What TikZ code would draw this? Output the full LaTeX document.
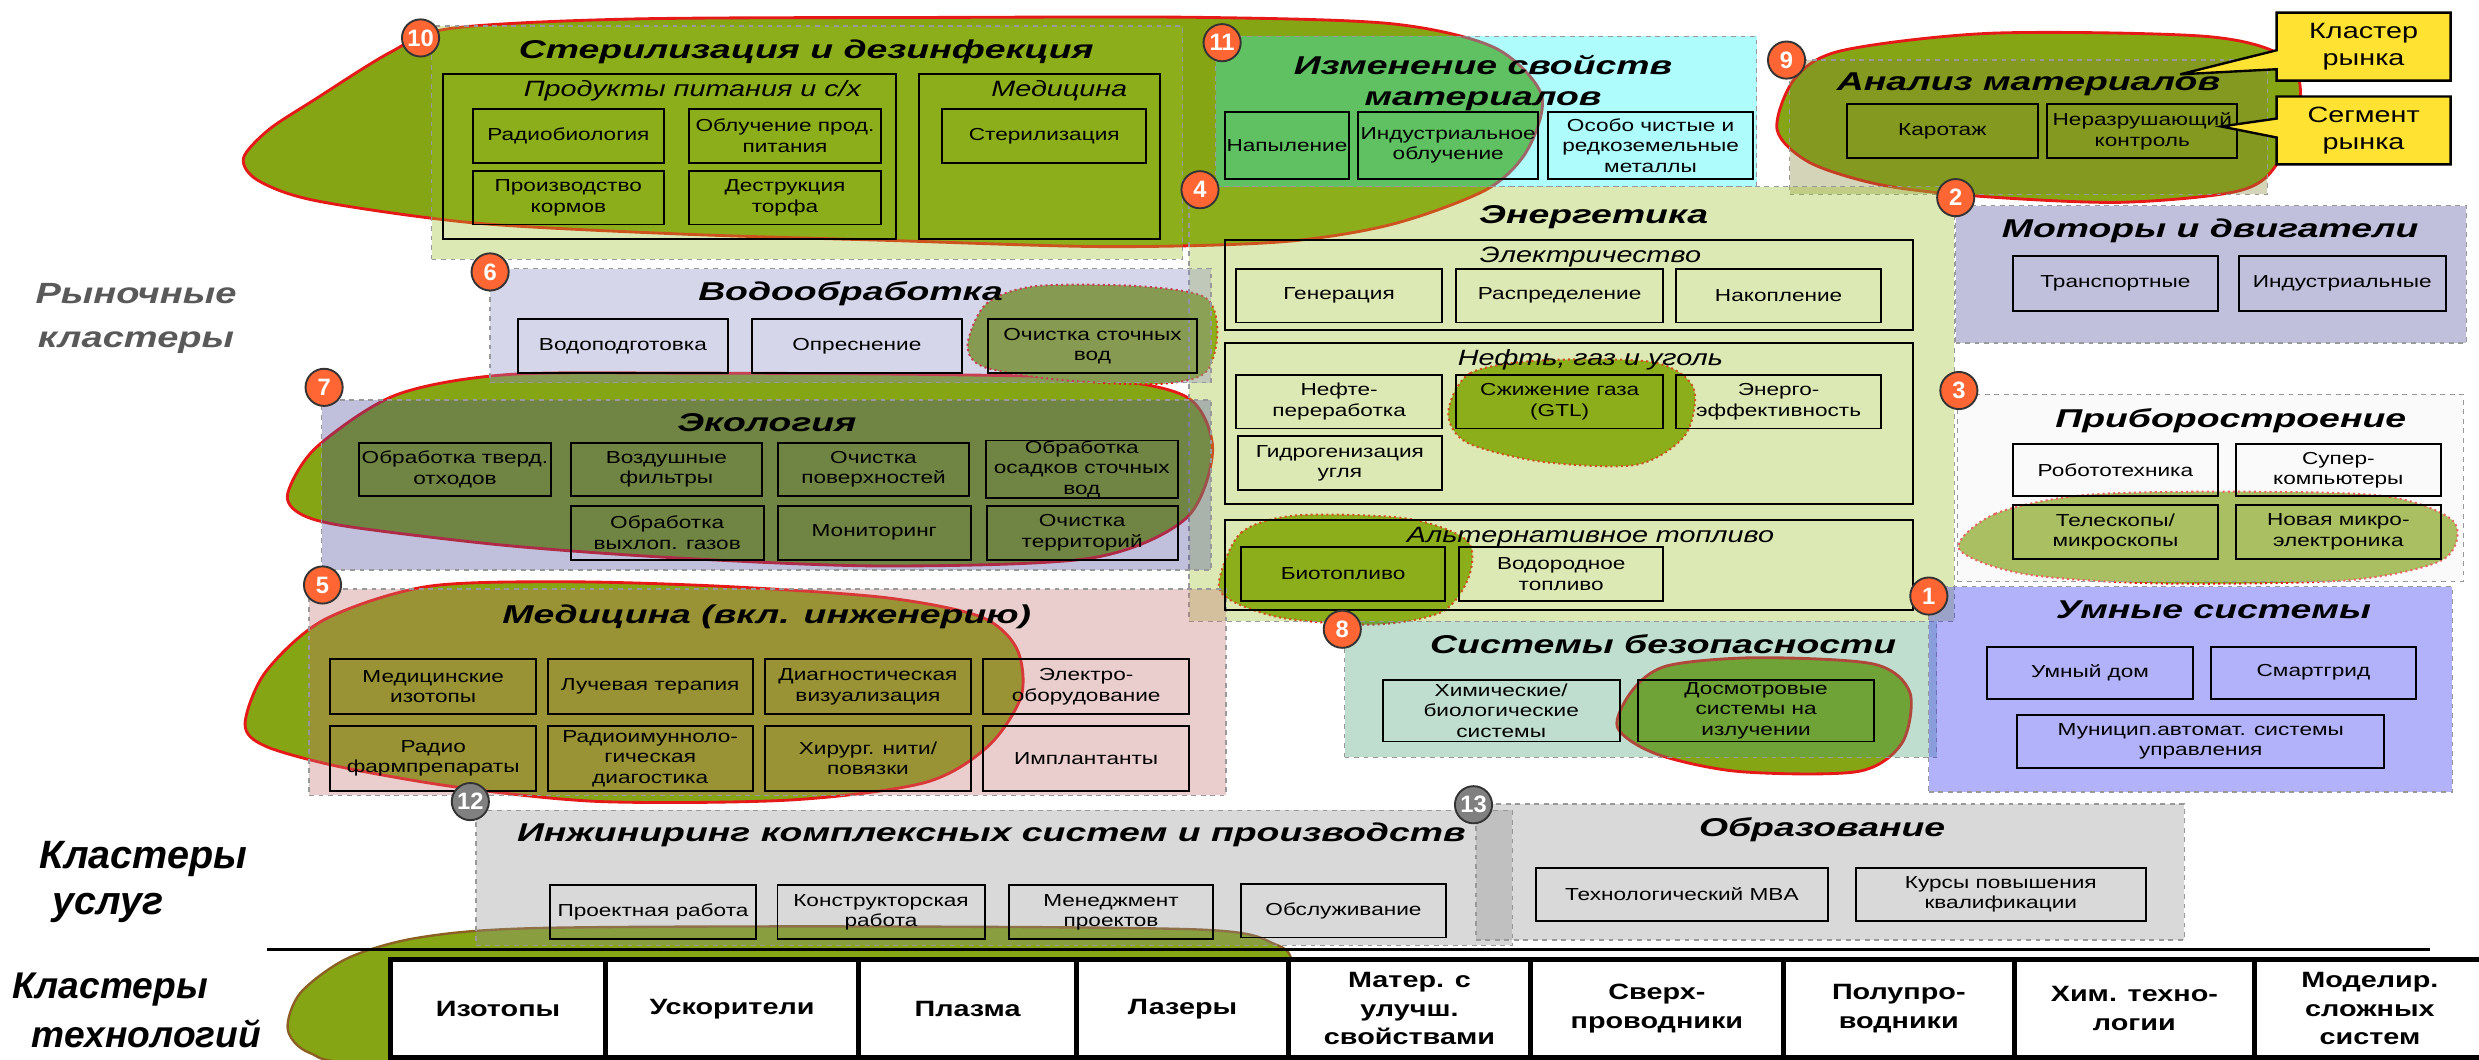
\documentclass[tikz,border=0pt]{standalone}
\usepackage{fontspec}
\setmainfont{Liberation Sans}
\newfontfamily\fnt{Liberation Sans}[FakeStretch=1.3]
\newfontfamily\ttlf{Liberation Sans}[FakeStretch=1.45]
\usetikzlibrary{shapes.callouts}

\begin{document}
\begin{tikzpicture}[x=1pt, y=-1pt]
  \definecolor{blobgreen}{RGB}{133,165,20}
  \definecolor{blobred}{RGB}{230,25,25}
  \definecolor{blobbrown}{RGB}{140,95,35}
  \definecolor{cgreen}{RGB}{158,192,41}
  \definecolor{ccyan}{RGB}{26,246,246}
  \definecolor{cbeige}{RGB}{132,132,52}
  \definecolor{clav}{RGB}{138,138,195}
  \definecolor{clavd}{RGB}{75,75,158}
  \definecolor{cpink}{RGB}{195,115,115}
  \definecolor{cwhite}{RGB}{241,241,241}
  \definecolor{cblue}{RGB}{35,35,241}
  \definecolor{cteal}{RGB}{75,161,121}
  \definecolor{cgray}{RGB}{146,146,146}
  \definecolor{badgeorange}{RGB}{255,102,51}
  \definecolor{noteyellow}{RGB}{255,226,50}
  \definecolor{lblgray}{RGB}{89,89,89}
  \tikzstyle{blob}=[fill=blobgreen, draw=blobred, line width=1.8pt]
  \tikzstyle{dotblob}=[fill=blobgreen, draw=blobred, line width=1.3pt, dotted]
  \tikzstyle{cluster}=[draw=gray!80, dashed, line width=0.8pt, fill opacity=0.35, inner sep=0pt]
  \tikzstyle{grp}=[draw, line width=1.3pt, inner sep=0pt]
  \tikzstyle{sub}=[draw, line width=1.2pt, inner sep=0pt, align=center, font=\fnt\fontsize{11}{13}\selectfont]
  \tikzstyle{ttl}=[inner sep=0pt, anchor=base, align=center, font=\ttlf\bfseries\itshape\fontsize{16.3}{19.6}\selectfont]
  \tikzstyle{grplbl}=[inner sep=0pt, anchor=base, font=\fnt\itshape\fontsize{14}{17}\selectfont]
  \tikzstyle{tech}=[draw, fill=white, line width=3pt, inner sep=0pt, align=center, minimum height=62pt, font=\fnt\bfseries\fontsize{14}{18}\selectfont]
  \tikzstyle{badge}=[circle, fill=badgeorange, draw=black!80, line width=1.2pt, minimum size=23.5pt, inner sep=0pt, text=white, font=\bfseries\fontsize{15}{15}\selectfont]
  \tikzstyle{graybadge}=[badge, fill=gray]
  \tikzstyle{rowlbl}=[inner sep=0pt, anchor=north west, align=left]
  \tikzstyle{note}=[rectangle callout, draw, fill=noteyellow, line width=1.5pt, callout pointer width=12pt, minimum width=110pt, minimum height=43pt, inner sep=0pt, align=center, font=\fnt\fontsize{14}{17}\selectfont]

  \useasboundingbox (0,0) rectangle (1568,670);

  % blobs
  \draw[blob] plot[smooth cycle] coordinates {(154,100) (170,82) (199,63) (247,33) (285,18) (400,12) (600,11) (760,11) (880,15) (945,30) (975,60) (966,95) (940,120) (880,142) (810,153) (700,156) (560,152) (430,148) (300,141) (200,127) (163,114)};
  \draw[blob] plot[smooth cycle] coordinates {(1124,82) (1135,50) (1165,32) (1260,21) (1395,23) (1445,36) (1455,62) (1440,104) (1415,121) (1340,128) (1250,124) (1190,117) (1145,103)};
  \draw[blob] plot[smooth cycle] coordinates {(182,312) (200,283) (250,250) (320,237) (435,236) (600,237) (700,240) (752,252) (767,285) (750,328) (690,353) (560,358) (430,353) (320,345) (220,333) (190,325)};
  \draw[blob] plot[smooth cycle] coordinates {(155,458) (168,425) (205,392) (270,371) (360,368) (460,371) (560,378) (620,390) (643,410) (646,440) (625,472) (585,495) (500,506) (380,507) (290,498) (215,485) (168,472)};
  \draw[blob] plot[smooth cycle] coordinates {(1023,460) (1033,436) (1055,421) (1111,416) (1185,420) (1208,438) (1203,470) (1175,488) (1100,488) (1048,477)};
  \draw[dotblob] plot[smooth cycle] coordinates {(612,218) (624,192) (655,181) (720,181) (762,188) (770,210) (762,236) (730,243) (668,240) (622,232)};
  \draw[dotblob] plot[smooth cycle] coordinates {(916,261) (930,236) (975,228) (1045,229) (1071,245) (1066,275) (1035,294) (975,292) (928,280)};
  \draw[dotblob] plot[smooth cycle] coordinates {(771,368) (785,337) (820,326) (890,328) (928,342) (929,365) (912,387) (870,395) (812,391) (779,380)};
  \draw[dotblob] plot[smooth cycle] coordinates {(1239,347) (1262,325) (1320,313) (1420,311) (1510,314) (1552,330) (1545,354) (1485,367) (1365,369) (1280,363)};
  \draw[blob, draw=blobbrown, line width=1.5pt] plot[smooth cycle] coordinates {(182,651) (190,628) (220,606) (265,593) (340,587) (550,586) (760,588) (806,597) (818,612) (820,675) (500,676) (240,673) (196,666)};

  % market clusters
  \node[cluster, fill=cgreen, minimum width=475pt, minimum height=147.5pt] (steril) at (510.5,90.25) {};
  \node[cluster, fill=ccyan, minimum width=342pt, minimum height=95pt] (props) at (940,70.5) {};
  \node[cluster, fill=cbeige, minimum width=302pt, minimum height=85pt] (analysis) at (1283,80.5) {};
  \node[cluster, fill=cgreen, minimum width=484pt, minimum height=275pt] (energy) at (994,255.5) {};
  \node[cluster, fill=clav, minimum width=456pt, minimum height=72pt] (water) at (538,206) {};
  \node[cluster, fill=clavd, minimum width=562.5pt, minimum height=107.5pt] (ecology) at (484.75,306.75) {};
  \node[cluster, fill=cpink, minimum width=580pt, minimum height=130.5pt] (medicine) at (485.5,437.75) {};
  \node[cluster, fill=cteal, minimum width=374.5pt, minimum height=86pt] (safety) at (1037.75,436) {};
  \node[cluster, fill=clavd, minimum width=323pt, minimum height=87pt] (motors) at (1398.5,173.5) {};
  \node[cluster, fill=cwhite, minimum width=320pt, minimum height=118.5pt] (instr) at (1398,308.75) {};
  \node[cluster, fill=cblue, minimum width=331pt, minimum height=130pt] (smart) at (1385.5,436) {};
  \node[cluster, fill=cgray, minimum width=655.5pt, minimum height=85.5pt] (engin) at (628.75,555.25) {};
  \node[cluster, fill=cgray, minimum width=448pt, minimum height=86pt] (educ) at (1157.5,551.6) {};

  % sterilization
  \node[ttl] (sterilT) at (510,36.9) {Стерилизация и дезинфекция};
  \node[grp, minimum width=287pt, minimum height=104pt] (food) at (423.5,99) {};
  \node[grplbl] (foodT) at (438,61.2) {Продукты питания и с/х};
  \node[sub, minimum width=121pt, minimum height=34pt] (radiobio) at (359.5,86) {Радиобиология};
  \node[sub, minimum width=121pt, minimum height=34pt] (irrad) at (496.5,86) {Облучение прод.\\питания};
  \node[sub, minimum width=121pt, minimum height=34pt] (fodder) at (359.5,125) {Производство\\кормов};
  \node[sub, minimum width=121pt, minimum height=34pt] (peat) at (496.5,125) {Деструкция\\торфа};
  \node[grp, minimum width=153pt, minimum height=104pt] (medgrp) at (657.5,99) {};
  \node[grplbl] (medgrpT) at (670,61.2) {Медицина};
  \node[sub, minimum width=129pt, minimum height=34pt] (sterilz) at (660.5,86) {Стерилизация};

  % material properties
  \node[ttl] (propsT) at (938,66.5) {Изменение свойств\\материалов};
  \node[sub, minimum width=78pt, minimum height=42pt] (spray) at (814,92) {Напыление};
  \node[sub, minimum width=114pt, minimum height=42pt] (indirr) at (916,92) {Индустриальное\\облучение};
  \node[sub, minimum width=130pt, minimum height=42pt] (metals) at (1044,92) {Особо чистые и\\редкоземельные\\металлы};

  % material analysis
  \node[ttl] (analysisT) at (1283,57.4) {Анализ материалов};
  \node[sub, minimum width=121pt, minimum height=34pt] (logging) at (1228.5,83) {Каротаж};
  \node[sub, minimum width=120pt, minimum height=34pt] (ndt) at (1355,83) {Неразрушающий\\контроль};

  % energy
  \node[ttl] (energyT) at (1008,141.3) {Энергетика};
  \node[grp, minimum width=435pt, minimum height=57pt] (elec) at (992.5,180.5) {};
  \node[grplbl] (elecT) at (1006,166) {Электричество};
  \node[sub, minimum width=130pt, minimum height=34pt] (gen) at (847,187) {Генерация};
  \node[sub, minimum width=131pt, minimum height=34pt] (distr) at (986.5,187) {Распределение};
  \node[sub, minimum width=130pt, minimum height=34pt] (storage) at (1125,187) {Накопление};
  \node[grp, minimum width=435pt, minimum height=102pt] (oil) at (992.5,268) {};
  \node[grplbl] (oilT) at (1006,231) {Нефть, газ и уголь};
  \node[sub, minimum width=130pt, minimum height=34pt] (refin) at (847,254) {Нефте-\\переработка};
  \node[sub, minimum width=131pt, minimum height=34pt] (gtl) at (986.5,254) {Сжижение газа\\(GTL)};
  \node[sub, minimum width=130pt, minimum height=34pt] (effic) at (1125,254) {Энерго-\\эффективность};
  \node[sub, minimum width=129pt, minimum height=34pt] (coal) at (847.5,293) {Гидрогенизация\\угля};
  \node[grp, minimum width=435pt, minimum height=57pt] (alt) at (992.5,357.5) {};
  \node[grplbl] (altT) at (1006,343) {Альтернативное топливо};
  \node[sub, minimum width=129pt, minimum height=34pt] (biofuel) at (849.5,363) {Биотопливо};
  \node[sub, minimum width=129pt, minimum height=34pt] (hydrogen) at (987.5,363) {Водородное\\топливо};

  % water
  \node[ttl] (waterT) at (538,189.8) {Водообработка};
  \node[sub, minimum width=132.5pt, minimum height=34pt] (prep) at (394,219) {Водоподготовка};
  \node[sub, minimum width=132.5pt, minimum height=34pt] (desal) at (542,219) {Опреснение};
  \node[sub, minimum width=132.5pt, minimum height=34pt] (sewage) at (691,219) {Очистка сточных\\вод};

  % ecology
  \node[ttl] (ecologyT) at (485,273) {Экология};
  \node[sub, minimum width=121.5pt, minimum height=33.5pt] (waste) at (287.75,296.75) {Обработка тверд.\\отходов};
  \node[sub, minimum width=121pt, minimum height=33.5pt] (airf) at (421.5,296.75) {Воздушные\\фильтры};
  \node[sub, minimum width=121pt, minimum height=33.5pt] (surf) at (552.5,296.75) {Очистка\\поверхностей};
  \node[sub, minimum width=121.5pt, minimum height=33.5pt] (sludge) at (684.25,296.75) {Обработка\\осадков сточных\\вод};
  \node[sub, minimum width=122pt, minimum height=34pt] (exhaust) at (422,337) {Обработка\\выхлоп. газов};
  \node[sub, minimum width=122pt, minimum height=34pt] (monit) at (553,337) {Мониторинг};
  \node[sub, minimum width=121pt, minimum height=34pt] (territ) at (684.5,337) {Очистка\\территорий};

  % medicine
  \node[ttl] (medicineT) at (485,394.3) {Медицина (вкл. инженерию)};
  \node[sub, minimum width=130pt, minimum height=34.5pt] (medisot) at (274,434.25) {Медицинские\\изотопы};
  \node[sub, minimum width=129.5pt, minimum height=34.5pt] (radther) at (411.25,434.25) {Лучевая терапия};
  \node[sub, minimum width=130pt, minimum height=34.5pt] (diagvis) at (549,434.25) {Диагностическая\\визуализация};
  \node[sub, minimum width=130pt, minimum height=34.5pt] (electeq) at (687,434.25) {Электро-\\оборудование};
  \node[sub, minimum width=130pt, minimum height=41.5pt] (pharma) at (274,479.75) {Радио\\фармпрепараты};
  \node[sub, minimum width=129.5pt, minimum height=41.5pt] (riadiag) at (411.25,479.75) {Радиоимунноло-\\гическая\\диагостика};
  \node[sub, minimum width=130pt, minimum height=41.5pt] (sutures) at (549,479.75) {Хирург. нити/\\повязки};
  \node[sub, minimum width=130pt, minimum height=41.5pt] (implant) at (687,479.75) {Имплантанты};

  % safety
  \node[ttl] (safetyT) at (1052,413.2) {Системы безопасности};
  \node[sub, minimum width=150pt, minimum height=39pt] (chembio) at (949.5,449.5) {Химические/\\биологические\\системы};
  \node[sub, minimum width=149.5pt, minimum height=39pt] (screen) at (1110.75,449.5) {Досмотровые\\системы на\\излучении};

  % motors
  \node[ttl] (motorsT) at (1398,150.1) {Моторы и двигатели};
  \node[sub, minimum width=130pt, minimum height=34.5pt] (transp) at (1338,179.25) {Транспортные};
  \node[sub, minimum width=131pt, minimum height=34.5pt] (indust) at (1481.5,179.25) {Индустриальные};

  % instruments
  \node[ttl] (instrT) at (1411,270.1) {Приборостроение};
  \node[sub, minimum width=130pt, minimum height=33pt] (robot) at (1338,297.5) {Робототехника};
  \node[sub, minimum width=130pt, minimum height=33pt] (supercomp) at (1479,297.5) {Супер-\\компьютеры};
  \node[sub, minimum width=130pt, minimum height=34pt] (telesc) at (1338,336.5) {Телескопы/\\микроскопы};
  \node[sub, minimum width=130pt, minimum height=34pt] (microel) at (1479,336.5) {Новая микро-\\электроника};

  % smart systems
  \node[ttl] (smartT) at (1400,391.3) {Умные системы};
  \node[sub, minimum width=130pt, minimum height=33pt] (home) at (1322,425.5) {Умный дом};
  \node[sub, minimum width=129.5pt, minimum height=33pt] (grid) at (1463.25,425.5) {Смартгрид};
  \node[sub, minimum width=232pt, minimum height=34pt] (munic) at (1392,469) {Муницип.автомат. системы\\управления};

  % services
  \node[ttl] (enginT) at (627,532.4) {Инжиниринг комплексных систем и производств};
  \node[sub, minimum width=130pt, minimum height=34pt] (design) at (413,577) {Проектная работа};
  \node[sub, minimum width=131pt, minimum height=34pt] (constr) at (557.25,577) {Конструкторская\\работа};
  \node[sub, minimum width=129.5pt, minimum height=34pt] (mgmt) at (702.75,577) {Менеджмент\\проектов};
  \node[sub, minimum width=129.5pt, minimum height=34pt] (service) at (849.75,576) {Обслуживание};
  \node[ttl] (educT) at (1152.5,529.2) {Образование};
  \node[sub, minimum width=184.4pt, minimum height=33.4pt] (mba) at (1063.8,565.7) {Технологический MBA};
  \node[sub, minimum width=183.5pt, minimum height=33.4pt] (courses) at (1265.5,565.7) {Курсы повышения\\квалификации};

  % technologies
  \draw[line width=2pt] (169,600.5) -- (1537,600.5);
  \node[tech, minimum width=136pt] (isotopes) at (315,638) {Изотопы};
  \node[tech, minimum width=160pt] (accel) at (463,638) {Ускорители};
  \node[tech, minimum width=138pt] (plasma) at (612,638) {Плазма};
  \node[tech, minimum width=134pt] (lasers) at (748,638) {Лазеры};
  \node[tech, minimum width=153pt] (materials) at (891.5,638) {Матер. с\\улучш.\\свойствами};
  \node[tech, minimum width=160pt] (supercond) at (1048,638) {Сверх-\\проводники};
  \node[tech, minimum width=146pt] (semicond) at (1201,638) {Полупро-\\водники};
  \node[tech, minimum width=152pt] (chemtech) at (1350,638) {Хим. техно-\\логии};
  \node[tech, minimum width=146pt] (modeling) at (1499,638) {Моделир.\\сложных\\систем};

  % row labels
  \node[inner sep=0pt, anchor=north, align=center, text=lblgray, font=\fnt\bfseries\itshape\fontsize{18.5}{28}\selectfont] (marketL) at (86,179) {Рыночные\\кластеры};
  \node[rowlbl, font=\bfseries\itshape\fontsize{25}{29}\selectfont] (servL) at (25,532) {Кластеры\\\hspace*{8pt}услуг};
  \node[rowlbl, font=\bfseries\itshape\fontsize{23.5}{31}\selectfont] (techL) at (8,615) {Кластеры\\\hspace*{12pt}технологий};

  % callouts
  \node[note, callout absolute pointer={(1379,47)}] (clusterN) at (1495,29.5) {Кластер\\рынка};
  \node[note, callout absolute pointer={(1405,80)}] (segmentN) at (1495,82.5) {Сегмент\\рынка};

  % badges
  \node[badge] (b10) at (266,24) {10};
  \node[badge] (b11) at (773,27) {11};
  \node[badge] (b9) at (1130,38) {9};
  \node[badge] (b4) at (759,120) {4};
  \node[badge] (b2) at (1237,125) {2};
  \node[badge] (b6) at (310,172) {6};
  \node[badge] (b7) at (205,245) {7};
  \node[badge] (b3) at (1239,247) {3};
  \node[badge] (b5) at (204,370) {5};
  \node[badge] (b1) at (1220,377) {1};
  \node[badge] (b8) at (849,398) {8};
  \node[graybadge] (b12) at (297.5,507) {12};
  \node[graybadge] (b13) at (932,509) {13};
\end{tikzpicture}
\end{document}
